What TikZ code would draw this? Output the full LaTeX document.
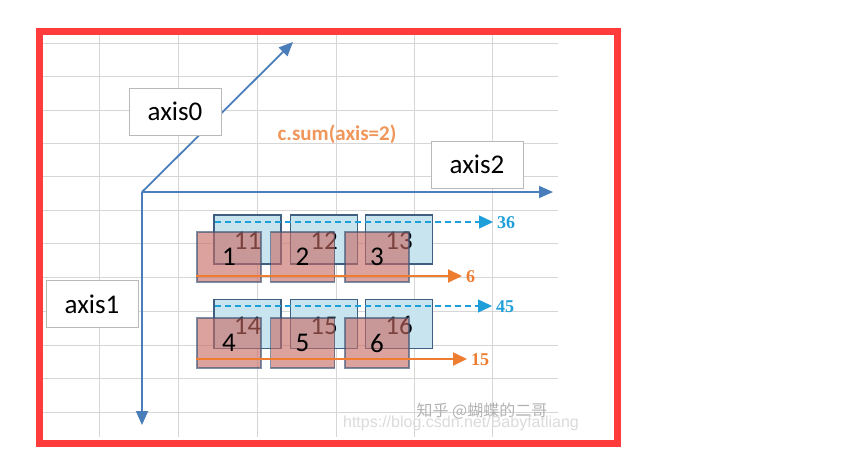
\documentclass[tikz,border=0pt]{standalone}
\usepackage{fontspec}
\setmainfont{Carlito}
\newfontfamily\cjkfont{Noto Sans CJK SC}
\newfontfamily\numfont{Liberation Serif}
\newfontfamily\urlfont{Liberation Sans}
\usetikzlibrary{arrows.meta}
\definecolor{gridc}{HTML}{D6D6D6}
\definecolor{axisc}{HTML}{4A7EBB}
\definecolor{bluef}{HTML}{C8E4EF}
\definecolor{blued}{HTML}{3F5F80}
\definecolor{redf}{HTML}{C86A63}
\definecolor{redd}{HTML}{3E5475}
\definecolor{dashc}{HTML}{1F9FDA}
\definecolor{orc}{HTML}{EE7D31}
\definecolor{sumc}{HTML}{F0965A}
\definecolor{frame}{HTML}{FF3B3B}
\newcommand{\lowr}[1]{\raisebox{-1.5pt}[\height][0pt]{#1}}
\tikzset{
  gridln/.style={draw=gridc, line width=1pt},
  axisln/.style={draw=axisc, line width=1.8pt, -{Triangle[length=14pt,width=12pt]}},
  axlbl/.style={draw=gray!55, fill=white, line width=1pt, minimum width=92pt, minimum height=47pt, inner sep=0pt, font=\fontsize{27}{30}\selectfont},
  bbox/.style={draw=blued, fill=bluef, line width=1.2pt, minimum width=67pt, minimum height=49pt, inner sep=0pt, font=\fontsize{27}{30}\selectfont},
  rbox/.style={draw=redd, fill=redf, fill opacity=0.62, draw opacity=0.65, text opacity=1, line width=1.2pt, minimum width=64pt, minimum height=50pt, inner sep=0pt, font=\fontsize{27}{30}\selectfont},
  dasharr/.style={draw=dashc, line width=1.5pt, dash pattern=on 6pt off 4pt, -{Triangle[length=14pt,width=13pt]}},
  orarr/.style={draw=orc, line width=2pt, -{Triangle[length=14pt,width=13pt]}},
  sumlbl/.style={inner sep=0pt, font=\numfont\bfseries\fontsize{18}{20}\selectfont},
}
\begin{document}
\begin{tikzpicture}[x=1pt,y=-1pt]
\useasboundingbox (0,0) rectangle (847,456);
\fill[white] (0,0) rectangle (847,456);
% grid
\foreach \gx in {99,178,257,336,414,492}
  \draw[gridln] (\gx,35) -- (\gx,437);
\foreach \gy in {43,76,110,143,176,210,243,277,311,345,378,412}
  \draw[gridln] (43,\gy) -- (558,\gy);
% red frame
\draw[frame, line width=7pt] (39.5,31) rectangle (617.5,443.5);
% watermark
\node[inner sep=0pt, text=gray!60, font=\cjkfont\fontsize{16}{18}\selectfont] (wm1) at (482,411) {知乎 @蝴蝶的二哥};
\node[inner sep=0pt, text=gray!28, font=\urlfont\fontsize{16}{18}\selectfont] (wm2) at (461,423) {https://blog.csdn.net/Babyfatliang};
% axes
\coordinate (o) at (142,192);
\coordinate (a0) at (293,42);
\coordinate (a1) at (142,425);
\coordinate (a2) at (553,192);
\draw[axisln] (o) -- (a0);
\draw[axisln] (o) -- (a1);
\draw[axisln] (o) -- (a2);
\node[axlbl] (l0) at (175,111.5) {axis0};
\node[axlbl] (l1) at (92,304) {axis1};
\node[axlbl] (l2) at (477,164.5) {axis2};
\node[inner sep=0pt, text=sumc, font=\bfseries\fontsize{21}{24}\selectfont] (sum) at (337,134) {c.sum(axis=2)};
% row 1
\node[bbox] (b11) at (247.5,239.5) {\lowr{11}};
\node[bbox] (b12) at (324,239.5) {\lowr{12}};
\node[bbox] (b13) at (399,239.5) {\lowr{13}};
\coordinate (d1) at (215,222);
\node[sumlbl, text=dashc, anchor=west] (s36) at (497,223) {36};
\draw[dasharr] (d1) -- ([xshift=-4pt]s36.west |- d1);
\node[rbox] (r1) at (229,257) {1};
\node[rbox] (r2) at (302.5,257) {2};
\node[rbox] (r3) at (377,257) {3};
\coordinate (o1) at (196,276);
\node[sumlbl, text=orc, anchor=west] (s6) at (466,277) {6};
\draw[orarr] (o1) -- ([xshift=-4pt]s6.west |- o1);
% row 2
\node[bbox] (b14) at (247.5,324) {\lowr{14}};
\node[bbox] (b15) at (324,324) {\lowr{15}};
\node[bbox] (b16) at (399,324) {\lowr{16}};
\coordinate (d2) at (215,306);
\node[sumlbl, text=dashc, anchor=west] (s45) at (496,307) {45};
\draw[dasharr] (d2) -- ([xshift=-4pt]s45.west |- d2);
\node[rbox] (r4) at (229,343) {4};
\node[rbox] (r5) at (302.5,343) {5};
\node[rbox] (r6) at (377,343) {6};
\coordinate (o2) at (196,359);
\node[sumlbl, text=orc, anchor=west] (s15) at (471,360) {15};
\draw[orarr] (o2) -- ([xshift=-4pt]s15.west |- o2);
\end{tikzpicture}
\end{document}
